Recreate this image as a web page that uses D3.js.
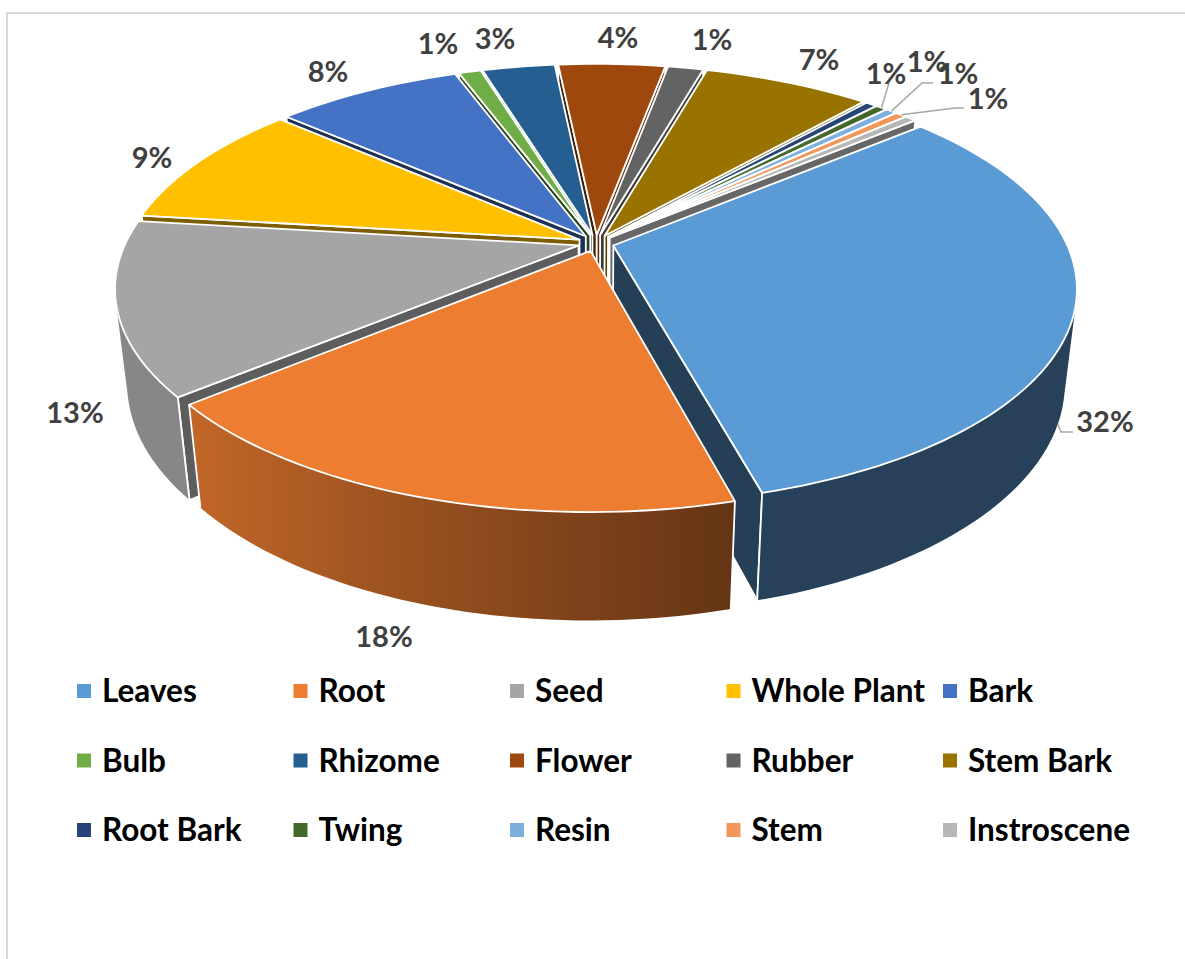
<!DOCTYPE html>
<html>
<head>
<meta charset="utf-8">
<script src="https://cdn.jsdelivr.net/npm/d3@7"></script>
<style>
  body { margin: 0; background: #fff; }
  text { font-family: Lato, "Open Sans", sans-serif; font-weight: 700; }
</style>
</head>
<body>
<div id="chart"></div>
<script>
// data, in pie order
var categories = ["Leaves", "Root", "Seed", "Whole Plant", "Bark", "Bulb", "Rhizome", "Flower",
    "Rubber", "Stem Bark", "Root Bark", "Twing", "Resin", "Stem", "Instroscene"];
var shares = [31.94, 18.11, 12.97, 9.54, 7.91, 0.94, 3.08, 4.53, 1.5, 7.08, 0.48, 0.48, 0.48, 0.48, 0.48];
var shareLabels = ["32%", "18%", "13%", "9%", "8%", "1%", "3%", "4%", "1%", "7%", "1%", "1%", "1%", "1%", ""];
var colors = ["#5B9BD5", "#ED7D31", "#A5A5A5", "#FFC000", "#4472C4", "#70AD47", "#255E91", "#9E480E",
    "#636363", "#997300", "#264478", "#43682B", "#7CAFDD", "#F1975A", "#B7B7B7"];

// labels were hand placed in the original, [x, y] of the text centre
var labelSpots = [[1105, 422], [384, 637], [75, 413], [152, 158], [328, 72], [438, 44], [495, 39], [618, 38],
    [712, 40], [819, 60], [927, 62], [886, 74], [958, 74], [988, 99], [0, 0]];
// leader elbows for the labels that have one, by slice index
var leaders = { 0: [[1061, 432], [1073, 432]], 11: [[889, 83]], 12: [[922, 83], [933, 83]], 13: [[955, 108], [964, 108]] };

// camera for the tilted pie
var cx = 596, cy = 243, A = 453, B = 207, C = 96, k = 0.194, m = 0.025;
var explode = 0.04;

var width = 1185, height = 959;
var rad = Math.PI / 180;

var svg = d3.select("#chart")
    .append("svg")
    .attr("width", width)
    .attr("height", height);
var defs = svg.append("defs");

// light frame of the chart area
svg.append("path")
    .attr("d", "M7," + height + "V13H" + width)
    .attr("fill", "none")
    .attr("stroke", "#d9d9d9")
    .attr("stroke-width", 2);

// d3.pie measures from north, the screen angle from east
var pie = d3.pie().sort(null).startAngle(50 * rad).endAngle(410 * rad);
var slices = pie(shares).map(function (d, i) {
    return {
        index: i,
        color: colors[i],
        a0: d.startAngle - Math.PI / 2,
        a1: d.endAngle - Math.PI / 2,
        mid: (d.startAngle + d.endAngle) / 2 - Math.PI / 2
    };
});

function project(s, theta, r, z) {
    var u = r * Math.cos(theta) + explode * Math.cos(s.mid);
    var v = r * Math.sin(theta) + explode * Math.sin(s.mid);
    var w = 1 - k * v + m * z;
    return [cx + A * u / w, cy + (B * v + C * z) / w];
}

// d3.polygonArea is negative for this winding in screen space
function area(pts) {
    return -d3.polygonArea(pts);
}

// rim brightness follows the left to right shading of the original
var rimShade = d3.scaleLinear().domain([-0.755, 0.26]).range([0.82, 0.42]).clamp(true);
function wallShade(normal) {
    return 0.5 + 0.1 * Math.cos(normal);
}
function darker(color, f) {
    var c = d3.rgb(color);
    return d3.rgb(c.r * f, c.g * f, c.b * f).formatHex();
}

var lineGen = d3.line();
function closed(pts) {
    return lineGen(pts) + "Z";
}

// back slices first
var ordered = slices.slice().sort(function (a, b) { return Math.sin(a.mid) - Math.sin(b.mid); });

var sliceG = svg.selectAll(".slice")
    .data(ordered)
    .enter()
    .append("g")
    .attr("class", "slice");

sliceG.each(function (s) {
    var g = d3.select(this);

    // the two cut faces, kept only when they look at the camera
    var startWall = [project(s, 0, 0, 0), project(s, s.a0, 1, 0), project(s, s.a0, 1, 1), project(s, 0, 0, 1)];
    var endWall = [project(s, 0, 0, 0), project(s, s.a1, 1, 0), project(s, s.a1, 1, 1), project(s, 0, 0, 1)];
    if (area(startWall) < 0) {
        g.append("path").attr("d", closed(startWall))
            .attr("fill", darker(s.color, wallShade(s.a0 - Math.PI / 2)))
            .attr("stroke", "#fff").attr("stroke-width", 1.8).attr("stroke-linejoin", "round");
    }
    if (area(endWall) > 0) {
        g.append("path").attr("d", closed(endWall))
            .attr("fill", darker(s.color, wallShade(s.a1 + Math.PI / 2)))
            .attr("stroke", "#fff").attr("stroke-width", 1.8).attr("stroke-linejoin", "round");
    }

    // outer rim, only the stretch that faces the camera, shaded with a gradient
    var steps = Math.max(2, Math.ceil((s.a1 - s.a0) / (1.5 * rad)));
    var angles = d3.range(steps + 1).map(function (j) { return s.a0 + (s.a1 - s.a0) * j / steps; });
    var shown = d3.pairs(angles).filter(function (p) {
        return area([project(s, p[0], 1, 0), project(s, p[1], 1, 0), project(s, p[1], 1, 1), project(s, p[0], 1, 1)]) < 0;
    });

    if (shown.length) {
        var rimAngles = [shown[0][0]].concat(shown.map(function (p) { return p[1]; }));
        var topArc = rimAngles.map(function (a) { return project(s, a, 1, 0); });
        var botArc = rimAngles.map(function (a) { return project(s, a, 1, 1); }).reverse();
        var x0 = topArc[0][0], x1 = topArc[topArc.length - 1][0];
        var gradId = "rim" + s.index;

        defs.append("linearGradient")
            .attr("id", gradId)
            .attr("gradientUnits", "userSpaceOnUse")
            .attr("x1", x0).attr("y1", 0)
            .attr("x2", x1).attr("y2", 0)
            .selectAll("stop")
            .data(rimAngles)
            .enter()
            .append("stop")
            .attr("offset", function (a, j) { return (topArc[j][0] - x0) / (x1 - x0); })
            .attr("stop-color", function (a) { return darker(s.color, rimShade(Math.cos(a))); });

        g.append("path").attr("d", closed(topArc.concat(botArc))).attr("fill", "url(#" + gradId + ")");

        // white seams where the rim meets a cut face
        [rimAngles[0], rimAngles[rimAngles.length - 1]].forEach(function (a) {
            if (a == s.a0 || a == s.a1) {
                g.append("path").attr("d", lineGen([project(s, a, 1, 0), project(s, a, 1, 1)]))
                    .attr("stroke", "#fff").attr("stroke-width", 1.8).attr("fill", "none");
            }
        });
    }

    // top face
    var topPts = [project(s, 0, 0, 0)].concat(angles.map(function (a) { return project(s, a, 1, 0); }));
    g.append("path").attr("d", closed(topPts))
        .attr("fill", s.color)
        .attr("stroke", "#fff").attr("stroke-width", 1.8).attr("stroke-linejoin", "round");
});

// leader lines, the first one starts on the lower edge of the rim
Object.keys(leaders).forEach(function (key) {
    var s = slices[+key];
    var start = key == 0 ? project(s, 21 * rad, 1, 1) : project(s, s.mid, 1, 0);
    svg.append("path")
        .attr("d", lineGen([start].concat(leaders[key])))
        .attr("fill", "none")
        .attr("stroke", "#a6a6a6")
        .attr("stroke-width", 1.5);
});

// data labels
svg.selectAll(".share")
    .data(shareLabels)
    .enter()
    .append("text")
    .attr("class", "share")
    .attr("x", function (d, i) { return labelSpots[i][0]; })
    .attr("y", function (d, i) { return labelSpots[i][1]; })
    .attr("dy", "0.35em")
    .attr("text-anchor", "middle")
    .style("font-size", "29px")
    .style("fill", "#404040")
    .text(function (d) { return d; });

// legend, five columns over three rows
var legendX = d3.scalePoint().domain(d3.range(5)).range([77, 943]);
var legendY = d3.scalePoint().domain(d3.range(3)).range([691, 830]);

var legend = svg.selectAll(".legend")
    .data(categories)
    .enter()
    .append("g")
    .attr("class", "legend")
    .attr("transform", function (d, i) {
        return "translate(" + legendX(i % 5) + "," + legendY(Math.floor(i / 5)) + ")";
    });

legend.append("rect")
    .attr("x", 0)
    .attr("y", -7)
    .attr("width", 14)
    .attr("height", 14)
    .style("fill", function (d, i) { return colors[i]; });

legend.append("text")
    .attr("x", 25)
    .attr("dy", "0.35em")
    .style("font-size", "31.5px")
    .style("fill", "#000")
    .text(function (d) { return d; });
</script>
</body>
</html>
